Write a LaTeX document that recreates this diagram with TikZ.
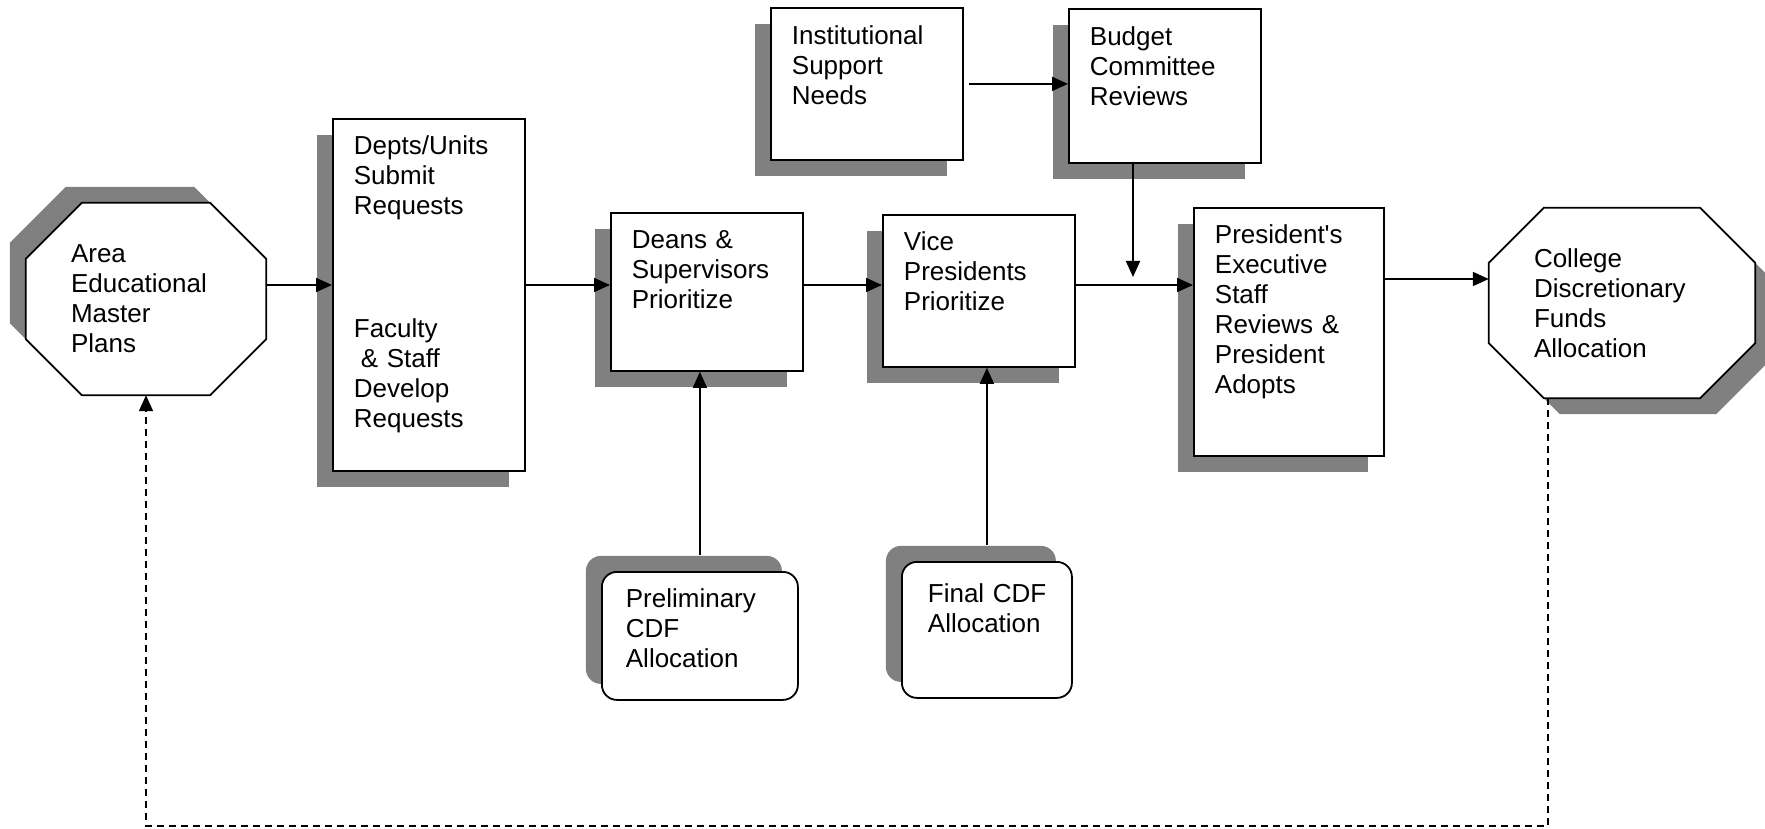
\documentclass[tikz,border=0pt]{standalone}
\usepackage{fontspec}
\setmainfont{Liberation Sans}
\usepackage{tikz}
\usetikzlibrary{arrows.meta, calc, shadows, backgrounds}

\definecolor{shadowgray}{RGB}{128,128,128}

% outline of an octagon around a named node, corner cut #2
\newcommand{\octagonpath}[2]{($(#1.north west)+(#2,0)$) -- ($(#1.north east)+(-#2,0)$) -- ($(#1.north east)+(0,#2)$) -- ($(#1.south east)+(0,-#2)$) -- ($(#1.south east)+(-#2,0)$) -- ($(#1.south west)+(#2,0)$) -- ($(#1.south west)+(0,-#2)$) -- ($(#1.north west)+(0,#2)$) -- cycle}

\begin{document}
\begin{tikzpicture}[x=1pt, y=-1pt, font={\fontsize{26pt}{30pt}\selectfont}]
		\tikzstyle{box} = [rectangle, draw=black, fill=white, line width=1.8pt, anchor=north west, align=left, inner ysep=0pt]
		
		\tikzstyle{stage} = [box, inner xsep=21pt, text width=150pt, text height=36pt, general shadow={fill=shadowgray, shadow xshift=-16pt, shadow yshift=-16pt}]
		
		\tikzstyle{alloc} = [box, rounded corners=15pt, general shadow={fill=shadowgray, shadow xshift=-16pt, shadow yshift=16pt}]
		
		\tikzstyle{octnode} = [rectangle, align=left, inner sep=0pt]
		\tikzstyle{octline} = [draw=black, fill=white, line width=1.8pt]
		
		\tikzstyle{arrow} = [-{Triangle[length=16pt,width=14pt]}, line width=1.8pt]
		\tikzstyle{backarrow} = [arrow, dash pattern=on 7pt off 5pt]
		
		\useasboundingbox (0,0) rectangle (1765,829);
		
		% Octagons at both ends
		\node (area) [octnode, minimum width=240pt, minimum height=192pt, text width=150pt] at (146,299) {Area\\ Educational\\ Master\\ Plans};
		\node (college) [octnode, minimum width=266pt, minimum height=190pt, text width=176pt] at (1622,303) {College\\ Discretionary\\ Funds\\ Allocation};
		
		\begin{scope}[on background layer]
		\draw [octline, general shadow={fill=shadowgray, shadow xshift=-16pt, shadow yshift=16pt}] \octagonpath{area}{56};
		\draw [octline, general shadow={fill=shadowgray, shadow xshift=16pt, shadow yshift=-16pt}] \octagonpath{college}{55};
		\end{scope}
		
		% Main row
		\node (depts) [stage, text depth=316pt] at (332,118) {Depts/Units\\ Submit\\ Requests\\[93pt] Faculty\\ \hspace*{7pt}\& Staff\\ Develop\\ Requests};
		\node (deans) [stage, text depth=122pt] at (610,212) {Deans \&\\ Supervisors\\ Prioritize};
		\node (vp) [stage, text depth=116pt] at (882,214) {Vice\\ Presidents\\ Prioritize};
		\node (pres) [stage, text width=148pt, text depth=212pt] at (1193,207) {President\textquotesingle s\\ Executive\\ Staff\\ Reviews \&\\ President\\ Adopts};
		
		% Top row
		\node (inst) [stage, text height=37pt, text depth=115pt] at (770,7) {Institutional\\ Support\\ Needs};
		\node (budget) [stage, text height=37pt, text depth=117pt] at (1068,8) {Budget\\ Committee\\ Reviews};
		
		% Bottom row
		\node (prelim) [alloc, inner xsep=24pt, text width=148pt, text height=36pt, text depth=92pt] at (601,571) {Preliminary\\ CDF\\ Allocation};
		\node (final) [alloc, inner xsep=26pt, text width=118pt, text height=41pt, text depth=95pt] at (901,561) {Final~CDF\\ Allocation};
		
		\coordinate (flow) at (0,285);
		\coordinate (outflow) at (0,279);
		\coordinate (merge) at (1133,277);
		\coordinate (loopr) at (1548,826);
		
		% Arrows
		\draw [arrow] (area.east |- flow) -- (depts.west |- flow);
		\draw [arrow] (depts.east |- flow) -- (deans.west |- flow);
		\draw [arrow] (deans.east |- flow) -- (vp.west |- flow);
		\draw [arrow] (vp.east |- flow) -- (pres.west |- flow);
		\draw [arrow] (pres.east |- outflow) -- (college.west |- outflow);
		\draw [arrow, shorten <=5pt] (inst.east) -- (inst.east -| budget.west);
		\draw [arrow] (budget.south -| merge) -- (merge);
		\draw [arrow] ([yshift=16pt]prelim.north) -- (deans.south -| prelim.north);
		\draw [arrow] ([yshift=16pt]final.north) -- (vp.south -| final.north);
		\draw [backarrow] (college.south -| loopr) -- (loopr) -| (area.south);
\end{tikzpicture}
\end{document}
